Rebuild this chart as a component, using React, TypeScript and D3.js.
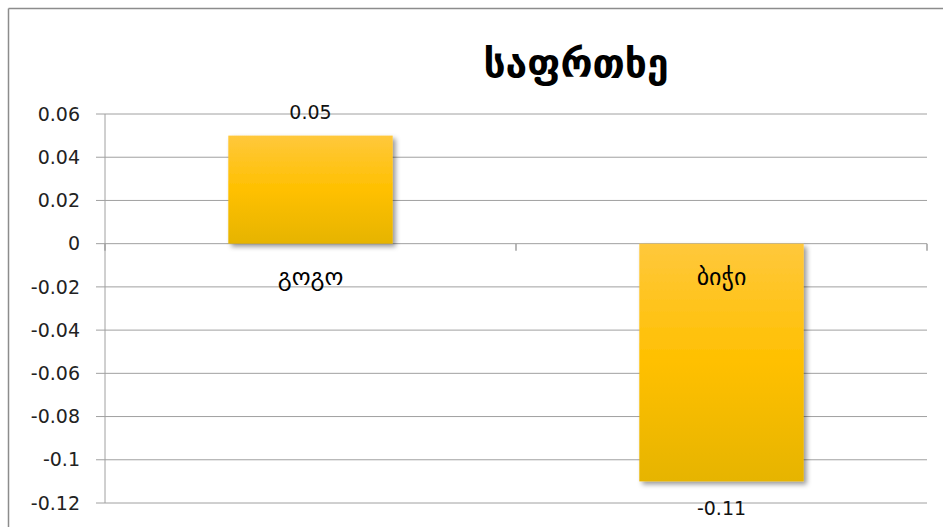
import React from "react";
import * as d3 from "d3";

const categories = ["გოგო", "ბიჭი"];
const values = [0.05, -0.11];
const valueLabels = ["0.05", "-0.11"];
const yTicks = [0.06, 0.04, 0.02, 0, -0.02, -0.04, -0.06, -0.08, -0.1, -0.12];
const yTickLabels = ["0.06", "0.04", "0.02", "0", "-0.02", "-0.04", "-0.06", "-0.08", "-0.1", "-0.12"];
const title = "საფრთხე";

export default function App() {
  const W = 943, H = 527;
  const left = 105, right = 927, top = 114, bottom = 503;
  const y = d3.scaleLinear().domain([-0.12, 0.06]).range([bottom, top]);
  const x = d3.scaleBand().domain(categories).range([left, right]).paddingInner(0.6).paddingOuter(0.3);
  const band = d3.scaleBand().domain(categories).range([left, right]);
  const font = "'DejaVu Sans', 'Liberation Sans', sans-serif";
  const y0 = y(0);
  return (
    <svg width={W} height={H} style={{ position: "absolute", left: 0, top: 0, background: "#fff" }}>
      <defs>
        <linearGradient id="barGrad" x1="0" y1="0" x2="0" y2="1">
          <stop offset="0" stopColor="#FFC83C" />
          <stop offset="0.5" stopColor="#FFC000" />
          <stop offset="1" stopColor="#E6B400" />
        </linearGradient>
        <filter id="shadow" x="-20%" y="-20%" width="140%" height="140%">
          <feDropShadow dx="3" dy="3" stdDeviation="2.5" floodColor="#000" floodOpacity="0.4" />
        </filter>
      </defs>
      <rect x={0} y={0} width={W} height={H} fill="#fff" />
      {/* frame */}
      <line x1={8.5} y1={8.5} x2={W} y2={8.5} stroke="#8c8c8c" strokeWidth={1.5} />
      <line x1={8.5} y1={8.5} x2={8.5} y2={H} stroke="#8c8c8c" strokeWidth={1.5} />
      {/* title */}
      <text x={576} y={77} textAnchor="middle" fontFamily={font} fontSize={39} fontWeight="bold" fill="#000">{title}</text>
      {/* gridlines */}
      {yTicks.map((t, i) => (
        <g key={i}>
          <line x1={96} x2={right} y1={y(t)} y2={y(t)} stroke="#a0a0a0" strokeWidth={1} />
          <text x={80} y={y(t)} dy="0.35em" textAnchor="end" fontFamily={font} fontSize={19} fill="#222">{yTickLabels[i]}</text>
        </g>
      ))}
      {/* y axis */}
      <line x1={left} x2={left} y1={top} y2={bottom} stroke="#a0a0a0" strokeWidth={1} />
      {/* category axis ticks */}
      {[left, ...categories.map(c => (band(c) as number) + band.bandwidth())].map((px, i) => (
        <line key={i} x1={px} x2={px} y1={y0} y2={y0 + 7} stroke="#a0a0a0" strokeWidth={1.5} />
      ))}
      {/* bars */}
      {categories.map((c, i) => {
        const v = values[i];
        const yTop = y(Math.max(0, v));
        const yBot = y(Math.min(0, v));
        return (
          <rect key={c} x={x(c)} y={yTop} width={x.bandwidth()} height={yBot - yTop} fill="url(#barGrad)" filter="url(#shadow)" />
        );
      })}
      {/* category labels */}
      {categories.map(c => (
        <text key={c} x={(x(c) as number) + x.bandwidth() / 2} y={y0 + 41} textAnchor="middle" fontFamily={font} fontSize={24} fill="#000">{c}</text>
      ))}
      {/* value labels */}
      {categories.map((c, i) => {
        const v = values[i];
        const yy = v >= 0 ? y(v) - 23 : y(v) + 27;
        return (
          <text key={c} x={(x(c) as number) + x.bandwidth() / 2} y={yy} dy="0.35em" textAnchor="middle" fontFamily={font} fontSize={19} fill="#111">{valueLabels[i]}</text>
        );
      })}
    </svg>
  );
}
